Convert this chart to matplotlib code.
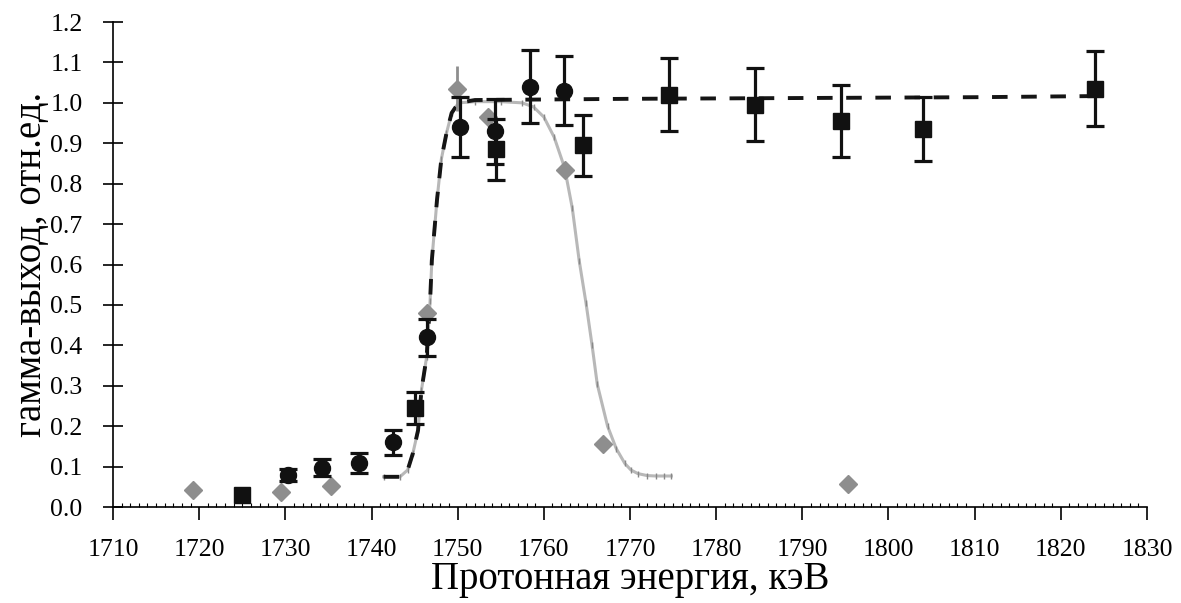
import matplotlib.pyplot as plt
from matplotlib.ticker import MultipleLocator

plt.rcParams['font.family'] = ['Liberation Serif', 'DejaVu Serif']

nan = float('nan')

# squares with error bars
sq_e = [1725.0, 1745.0, 1754.5, 1764.5, 1774.5, 1784.5, 1794.5, 1804.0, 1824.0]
sq_y = [0.03, 0.245, 0.885, 0.895, 1.02, 0.995, 0.955, 0.935, 1.035]
sq_err = [nan, 0.04, 0.075, 0.075, 0.09, 0.09, 0.09, 0.08, 0.093]

# circles with error bars
ci_e = [1730.3, 1734.3, 1738.5, 1742.5, 1746.4, 1750.3, 1754.3, 1758.4, 1762.3]
ci_y = [0.08, 0.098, 0.11, 0.16, 0.42, 0.94, 0.93, 1.04, 1.03]
ci_err = [0.015, 0.02, 0.025, 0.03, 0.045, 0.075, 0.08, 0.09, 0.085]

# grey diamonds
di_e = [1719.3, 1729.5, 1735.3, 1746.4, 1749.9, 1753.5, 1762.4, 1766.9, 1795.3]
di_y = [0.042, 0.038, 0.052, 0.48, 1.035, 0.966, 0.835, 0.155, 0.058]
di_err = [nan, nan, nan, nan, 0.055, nan, nan, nan, nan]

# dashed black curve
dash_e = [1741.4, 1743.3, 1744.2, 1744.8, 1745.4, 1745.8, 1746.4, 1746.8, 1747.0,
          1747.6, 1748.1, 1748.7, 1749.3, 1750.1, 1752.0, 1770.0, 1790.0, 1810.0, 1825.0]
dash_y = [0.075, 0.075, 0.092, 0.133, 0.19, 0.29, 0.372, 0.51, 0.61,
          0.76, 0.86, 0.925, 0.975, 1.0, 1.007, 1.01, 1.012, 1.014, 1.017]

# grey curve
grey_e = [1741.4, 1743.3, 1744.2, 1744.8, 1745.4, 1745.8, 1746.4, 1746.8, 1747.0,
          1747.6, 1748.1, 1748.7, 1749.3, 1750.1, 1752.0, 1755.0, 1757.5, 1758.8,
          1760.0, 1761.2, 1762.4, 1763.3, 1764.1, 1764.9, 1765.6, 1766.2, 1767.4,
          1768.4, 1769.4, 1770.1, 1770.9, 1772.0, 1773.0, 1774.0, 1774.8]
grey_y = [0.075, 0.075, 0.092, 0.133, 0.19, 0.29, 0.372, 0.51, 0.61,
          0.76, 0.86, 0.925, 0.975, 1.0, 1.003, 1.003, 1.0, 0.99,
          0.965, 0.915, 0.84, 0.74, 0.61, 0.504, 0.40, 0.304, 0.20,
          0.145, 0.108, 0.092, 0.083, 0.078, 0.077, 0.077, 0.077]

fig = plt.figure(figsize=(11.81, 6.03), dpi=100)
ax = fig.add_axes([0.0957, 0.159, 0.8755, 0.8045])

ax.plot(grey_e, grey_y, color='#b8b8b8', lw=2.2, marker='|', ms=4, mec='#888888', zorder=2)
ax.plot(dash_e, dash_y, color='#151515', lw=2.8, ls=(0, (4, 3.5)), zorder=3)

ax.errorbar(di_e, di_y, yerr=di_err, fmt='D', color='#8e8e8e', ms=9.5,
            ecolor='#8e8e8e', elinewidth=2, capsize=0, zorder=4)
ax.errorbar(ci_e, ci_y, yerr=ci_err, fmt='o', color='#111111', ms=11.5,
            elinewidth=2.3, capsize=6.5, capthick=2.3, zorder=5)
ax.errorbar(sq_e, sq_y, yerr=sq_err, fmt='s', color='#111111', ms=11.5,
            elinewidth=2.3, capsize=6.5, capthick=2.3, zorder=5)

ax.set_xlim(1710, 1830)
ax.set_ylim(0, 1.2)
ax.xaxis.set_major_locator(MultipleLocator(10))
ax.xaxis.set_minor_locator(MultipleLocator(1))
ax.yaxis.set_major_locator(MultipleLocator(0.1))
ax.yaxis.set_major_formatter(plt.FormatStrFormatter('%.1f'))

for s in ['top', 'right']:
    ax.spines[s].set_visible(False)
ax.spines['left'].set_linewidth(1.2)
ax.spines['bottom'].set_linewidth(1.2)

ax.tick_params(axis='x', which='major', direction='out', length=9, width=1.2,
               labelsize=18.5, pad=14)
ax.tick_params(axis='x', which='minor', direction='in', length=3, width=0.8)
ax.tick_params(axis='y', which='major', direction='inout', length=14, width=1.2,
               labelsize=18.5, pad=15)

ax.set_xlabel('Протонная энергия, кэВ', fontsize=28, labelpad=0)
ax.set_ylabel('гамма-выход, отн.ед.', fontsize=28, labelpad=0.5)

plt.savefig('out.png', dpi=100)
